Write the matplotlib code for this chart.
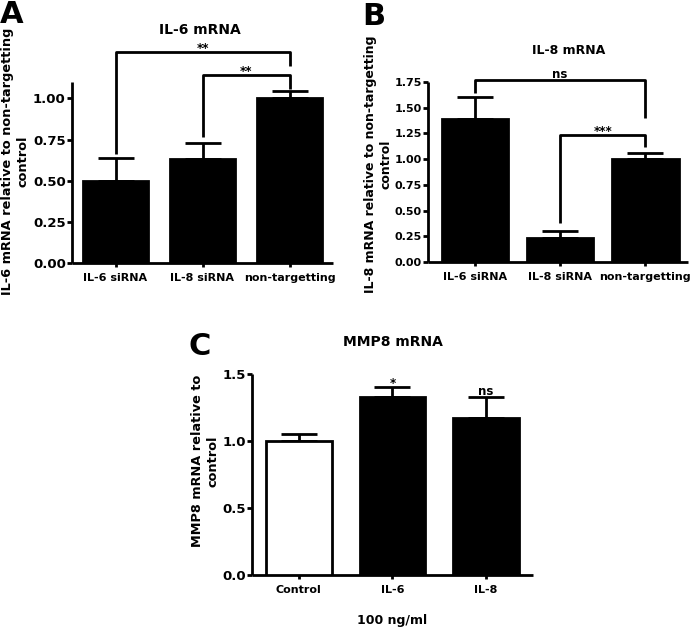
import matplotlib
matplotlib.use("Agg")
import matplotlib.pyplot as plt
import numpy as np

plt.rcParams['font.family'] = ['DejaVu Sans']
plt.rcParams['font.weight'] = 'bold'

W, H = 700, 632

# ---------------- data ----------------
cats_ab = ["IL-6 siRNA", "IL-8 siRNA", "non-targetting"]
il6_vals = [0.50, 0.63, 1.00]
il6_err = [0.14, 0.10, 0.045]
il8_vals = [1.39, 0.235, 1.00]
il8_err = [0.21, 0.065, 0.06]
cats_c = ["Control", "IL-6", "IL-8"]
mmp8_vals = [1.00, 1.33, 1.17]
mmp8_err = [0.055, 0.07, 0.16]
mmp8_sig = ["", "*", "ns"]

fig = plt.figure(figsize=(W / 100, H / 100), dpi=100)


def px_axes(l, r, b, t):
    return fig.add_axes([l / W, 1 - b / H, (r - l) / W, (b - t) / H])


LW = 2.0


def style(ax, yticks, fmt, xlim, ylim, cats, yfs=9.5, xfs=8):
    ax.set_xlim(*xlim)
    ax.set_ylim(*ylim)
    for s in ['top', 'right']:
        ax.spines[s].set_visible(False)
    for s in ['left', 'bottom']:
        ax.spines[s].set_linewidth(LW)
        ax.spines[s].set_capstyle('butt')
    ax.set_yticks(yticks)
    ax.set_yticklabels([fmt.format(v) for v in yticks], fontsize=yfs, fontweight='bold')
    ax.set_xticks(range(len(cats)))
    ax.set_xticklabels(cats, fontsize=xfs, fontweight='bold')
    ax.tick_params(axis='y', length=3.5, width=LW, pad=1)
    ax.tick_params(axis='x', length=3, width=LW, pad=4)


def bars(ax, vals, errs, width, colors):
    x = np.arange(len(vals))
    ax.bar(x, vals, width=width, color=colors, edgecolor='black', linewidth=LW, zorder=3)
    ax.errorbar(x, vals, yerr=[np.zeros(len(vals)), errs], fmt='none', ecolor='black',
                elinewidth=LW, capsize=13, capthick=LW, zorder=2)


def bracket(ax, x1, x2, y, y1, y2, label, off=1.0):
    ax.plot([x1, x1, x2, x2], [y1, y, y, y2], color='black', lw=LW, clip_on=False,
            solid_joinstyle='round', solid_capstyle='butt', zorder=4)
    ax.annotate(label, xy=((x1 + x2) / 2, y), xytext=(0, off), textcoords='offset points',
                ha='center', va='baseline', fontsize=8.5, fontweight='bold', annotation_clip=False)


# ---------------- Panel A ----------------
axA = px_axes(72, 333, 263, 82)
bars(axA, il6_vals, il6_err, 0.75, 'black')
style(axA, [0, 0.25, 0.5, 0.75, 1.0], "{:.2f}", (-0.5, 2.5), (0, 1.10), cats_ab)
bracket(axA, 0, 2, 1.28, 0.66, 1.20, "**", 0.5)
bracket(axA, 1, 2, 1.14, 0.765, 1.06, "**", 0.5)
fig.text(200 / W, 1 - 30 / H, "IL-6 mRNA", ha='center', va='center', fontsize=10, fontweight='bold')
fig.text(0 / W, 1 - 23 / H, "A", ha='left', va='baseline', fontsize=22, fontweight='bold')
fig.text(15 / W, 1 - 161 / H, "IL-6 mRNA relative to non-targetting\ncontrol", rotation=90,
         ha='center', va='center', multialignment='center', fontsize=9.3, fontweight='bold',
         linespacing=1.25)

# ---------------- Panel B ----------------
axB = px_axes(428, 688, 262, 82)
bars(axB, il8_vals, il8_err, 0.78, 'black')
style(axB, [0, 0.25, 0.5, 0.75, 1.0, 1.25, 1.5, 1.75], "{:.2f}", (-0.55, 2.5), (0, 1.75), cats_ab,
      yfs=8)
bracket(axB, 0, 2, 1.77, 1.645, 1.40, "ns", 1.5)
bracket(axB, 1, 2, 1.233, 0.38, 1.12, "***", 0.3)
fig.text(569 / W, 1 - 50 / H, "IL-8 mRNA", ha='center', va='center', fontsize=9, fontweight='bold')
fig.text(362 / W, 1 - 25 / H, "B", ha='left', va='baseline', fontsize=22, fontweight='bold')
fig.text(378 / W, 1 - 164 / H, "IL-8 mRNA relative to non-targetting\ncontrol", rotation=90,
         ha='center', va='center', multialignment='center', fontsize=9, fontweight='bold',
         linespacing=1.25)

# ---------------- Panel C ----------------
axC = px_axes(252, 533, 575, 374)
bars(axC, mmp8_vals, mmp8_err, 0.7, ['white', 'black', 'black'])
style(axC, [0, 0.5, 1.0, 1.5], "{:.1f}", (-0.5, 2.5), (0, 1.5), cats_c)
for i, s in enumerate(mmp8_sig):
    if s:
        axC.annotate(s, xy=(i, mmp8_vals[i] + mmp8_err[i]), xytext=(0, 1.5 if s == 'ns' else 0.3),
                     textcoords='offset points', ha='center', va='baseline', fontsize=8.5,
                     fontweight='bold', annotation_clip=False)
axC.set_xlabel("100 ng/ml", fontsize=9, fontweight='bold', labelpad=14)
fig.text(393 / W, 1 - 342 / H, "MMP8 mRNA", ha='center', va='center', fontsize=10, fontweight='bold')
fig.text(188 / W, 1 - 355 / H, "C", ha='left', va='baseline', fontsize=22, fontweight='bold')
fig.text(205 / W, 1 - 461 / H, "MMP8 mRNA relative to\ncontrol", rotation=90,
         ha='center', va='center', multialignment='center', fontsize=9.3, fontweight='bold',
         linespacing=1.25)

fig.savefig("out.png", dpi=100)
